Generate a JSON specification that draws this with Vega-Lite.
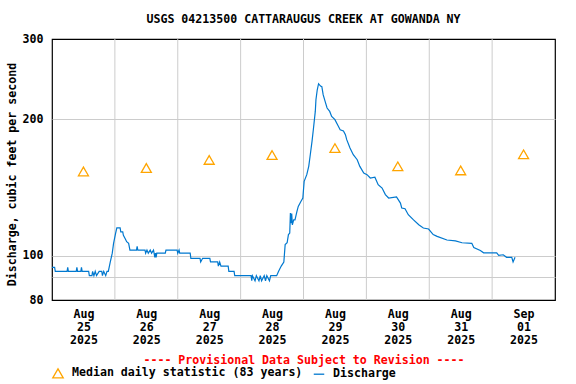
{
  "$schema": "https://vega.github.io/schema/vega-lite/v6.json",
  "width": 503,
  "height": 261,
  "autosize": "none",
  "padding": {"left": 52, "top": 39, "right": 21, "bottom": 84},
  "background": "white",
  "config": {
    "view": {"stroke": "black", "strokeWidth": 1.2},
    "font": "DejaVu Sans Mono"
  },
  "title": {
    "text": "USGS 04213500 CATTARAUGUS CREEK AT GOWANDA NY",
    "font": "DejaVu Sans Mono",
    "fontSize": 11.6,
    "fontWeight": "bold",
    "color": "black",
    "offset": 7,
    "anchor": "middle"
  },
  "datasets": {
    "days": [
      {"d": "2025-08-26T00:00"}, {"d": "2025-08-27T00:00"}, {"d": "2025-08-28T00:00"},
      {"d": "2025-08-29T00:00"}, {"d": "2025-08-30T00:00"}, {"d": "2025-08-31T00:00"},
      {"d": "2025-09-01T00:00"}
    ],
    "median": [
      {"t": "2025-08-25T12:00", "q": 153.4},
      {"t": "2025-08-26T12:00", "q": 156.1},
      {"t": "2025-08-27T12:00", "q": 162.6},
      {"t": "2025-08-28T12:00", "q": 166.7},
      {"t": "2025-08-29T12:00", "q": 172.7},
      {"t": "2025-08-30T12:00", "q": 157.4},
      {"t": "2025-08-31T12:00", "q": 154.2},
      {"t": "2025-09-01T12:00", "q": 167.3}
    ],
    "flow": [
      {"t": "2025-08-25T00:00", "q": 94.4},
      {"t": "2025-08-25T01:00", "q": 94.4},
      {"t": "2025-08-25T01:15", "q": 92.5},
      {"t": "2025-08-25T05:45", "q": 92.5},
      {"t": "2025-08-25T06:00", "q": 94.4},
      {"t": "2025-08-25T06:15", "q": 92.5},
      {"t": "2025-08-25T09:15", "q": 92.5},
      {"t": "2025-08-25T09:30", "q": 94.4},
      {"t": "2025-08-25T09:45", "q": 92.5},
      {"t": "2025-08-25T11:00", "q": 92.5},
      {"t": "2025-08-25T11:15", "q": 94.4},
      {"t": "2025-08-25T11:30", "q": 92.5},
      {"t": "2025-08-25T14:00", "q": 92.5},
      {"t": "2025-08-25T14:15", "q": 90.5},
      {"t": "2025-08-25T15:15", "q": 90.5},
      {"t": "2025-08-25T15:30", "q": 92.5},
      {"t": "2025-08-25T16:00", "q": 90.5},
      {"t": "2025-08-25T16:30", "q": 92.5},
      {"t": "2025-08-25T17:00", "q": 90.5},
      {"t": "2025-08-25T18:00", "q": 92.5},
      {"t": "2025-08-25T19:00", "q": 92.5},
      {"t": "2025-08-25T19:15", "q": 90.5},
      {"t": "2025-08-25T19:45", "q": 92.5},
      {"t": "2025-08-25T20:30", "q": 90.5},
      {"t": "2025-08-25T21:00", "q": 92.5},
      {"t": "2025-08-25T21:30", "q": 92.5},
      {"t": "2025-08-25T22:15", "q": 97},
      {"t": "2025-08-25T23:00", "q": 101.4},
      {"t": "2025-08-25T23:30", "q": 106.6},
      {"t": "2025-08-26T00:15", "q": 112},
      {"t": "2025-08-26T00:45", "q": 115.3},
      {"t": "2025-08-26T02:00", "q": 115.3},
      {"t": "2025-08-26T02:15", "q": 113},
      {"t": "2025-08-26T03:00", "q": 113},
      {"t": "2025-08-26T03:15", "q": 111},
      {"t": "2025-08-26T04:00", "q": 109},
      {"t": "2025-08-26T04:30", "q": 107.5},
      {"t": "2025-08-26T05:15", "q": 106.6},
      {"t": "2025-08-26T05:45", "q": 103},
      {"t": "2025-08-26T08:15", "q": 103},
      {"t": "2025-08-26T08:30", "q": 105},
      {"t": "2025-08-26T08:45", "q": 103},
      {"t": "2025-08-26T11:30", "q": 103},
      {"t": "2025-08-26T11:45", "q": 101.4},
      {"t": "2025-08-26T12:15", "q": 103},
      {"t": "2025-08-26T12:45", "q": 101.4},
      {"t": "2025-08-26T13:30", "q": 103},
      {"t": "2025-08-26T14:00", "q": 101.4},
      {"t": "2025-08-26T14:45", "q": 103},
      {"t": "2025-08-26T15:15", "q": 99.3},
      {"t": "2025-08-26T15:30", "q": 101.4},
      {"t": "2025-08-26T15:45", "q": 99.3},
      {"t": "2025-08-26T16:00", "q": 101.4},
      {"t": "2025-08-26T19:15", "q": 101.4},
      {"t": "2025-08-26T19:30", "q": 103},
      {"t": "2025-08-26T23:45", "q": 103},
      {"t": "2025-08-27T00:00", "q": 101.4},
      {"t": "2025-08-27T00:30", "q": 103},
      {"t": "2025-08-27T00:45", "q": 101.4},
      {"t": "2025-08-27T04:45", "q": 101.4},
      {"t": "2025-08-27T05:00", "q": 98.8},
      {"t": "2025-08-27T08:30", "q": 98.8},
      {"t": "2025-08-27T08:45", "q": 97},
      {"t": "2025-08-27T09:30", "q": 98.8},
      {"t": "2025-08-27T12:15", "q": 98.8},
      {"t": "2025-08-27T12:30", "q": 97},
      {"t": "2025-08-27T15:15", "q": 97},
      {"t": "2025-08-27T15:30", "q": 95},
      {"t": "2025-08-27T16:00", "q": 97},
      {"t": "2025-08-27T16:30", "q": 95},
      {"t": "2025-08-27T19:15", "q": 95},
      {"t": "2025-08-27T19:30", "q": 92.5},
      {"t": "2025-08-27T21:30", "q": 92.5},
      {"t": "2025-08-27T21:45", "q": 90.5},
      {"t": "2025-08-28T04:00", "q": 90.5},
      {"t": "2025-08-28T04:15", "q": 88.2},
      {"t": "2025-08-28T04:30", "q": 90.5},
      {"t": "2025-08-28T05:30", "q": 88.2},
      {"t": "2025-08-28T06:00", "q": 90.5},
      {"t": "2025-08-28T07:00", "q": 88.2},
      {"t": "2025-08-28T07:30", "q": 90.5},
      {"t": "2025-08-28T08:00", "q": 88.2},
      {"t": "2025-08-28T09:00", "q": 90.5},
      {"t": "2025-08-28T09:30", "q": 88.2},
      {"t": "2025-08-28T10:00", "q": 90.5},
      {"t": "2025-08-28T11:00", "q": 88.2},
      {"t": "2025-08-28T11:30", "q": 90.5},
      {"t": "2025-08-28T13:45", "q": 90.5},
      {"t": "2025-08-28T14:30", "q": 92.5},
      {"t": "2025-08-28T15:30", "q": 95},
      {"t": "2025-08-28T16:30", "q": 97},
      {"t": "2025-08-28T17:00", "q": 105.9},
      {"t": "2025-08-28T17:45", "q": 106.9},
      {"t": "2025-08-28T18:15", "q": 111.4},
      {"t": "2025-08-28T18:45", "q": 112.3},
      {"t": "2025-08-28T19:00", "q": 124.3},
      {"t": "2025-08-28T19:15", "q": 118},
      {"t": "2025-08-28T19:30", "q": 124},
      {"t": "2025-08-28T19:45", "q": 117},
      {"t": "2025-08-28T20:15", "q": 120},
      {"t": "2025-08-28T20:45", "q": 120},
      {"t": "2025-08-28T21:30", "q": 125.3},
      {"t": "2025-08-28T22:00", "q": 128.5},
      {"t": "2025-08-28T23:00", "q": 131.8},
      {"t": "2025-08-28T23:45", "q": 134.1},
      {"t": "2025-08-29T00:15", "q": 145.9},
      {"t": "2025-08-29T01:15", "q": 150.9},
      {"t": "2025-08-29T02:00", "q": 157.4},
      {"t": "2025-08-29T02:30", "q": 165.5},
      {"t": "2025-08-29T03:15", "q": 178.6},
      {"t": "2025-08-29T03:45", "q": 189.5},
      {"t": "2025-08-29T04:30", "q": 207.9},
      {"t": "2025-08-29T04:45", "q": 220.6},
      {"t": "2025-08-29T05:15", "q": 232},
      {"t": "2025-08-29T05:45", "q": 239.2},
      {"t": "2025-08-29T06:30", "q": 236.4},
      {"t": "2025-08-29T07:00", "q": 235.6},
      {"t": "2025-08-29T07:30", "q": 226.3},
      {"t": "2025-08-29T08:15", "q": 218.8},
      {"t": "2025-08-29T09:00", "q": 211.5},
      {"t": "2025-08-29T10:00", "q": 207.9},
      {"t": "2025-08-29T10:45", "q": 202.7},
      {"t": "2025-08-29T12:00", "q": 199.4},
      {"t": "2025-08-29T13:00", "q": 194.4},
      {"t": "2025-08-29T14:00", "q": 189.5},
      {"t": "2025-08-29T15:15", "q": 188.4},
      {"t": "2025-08-29T16:00", "q": 184.8},
      {"t": "2025-08-29T16:30", "q": 180.2},
      {"t": "2025-08-29T17:45", "q": 172.7},
      {"t": "2025-08-29T19:00", "q": 167},
      {"t": "2025-08-29T20:30", "q": 162.8},
      {"t": "2025-08-29T21:30", "q": 157.4},
      {"t": "2025-08-29T23:00", "q": 152.2},
      {"t": "2025-08-30T00:15", "q": 150.9},
      {"t": "2025-08-30T01:30", "q": 148.4},
      {"t": "2025-08-30T03:15", "q": 149},
      {"t": "2025-08-30T04:30", "q": 143.5},
      {"t": "2025-08-30T06:00", "q": 141},
      {"t": "2025-08-30T07:15", "q": 136.4},
      {"t": "2025-08-30T08:30", "q": 134.1},
      {"t": "2025-08-30T11:30", "q": 134.8},
      {"t": "2025-08-30T13:00", "q": 130.7},
      {"t": "2025-08-30T13:30", "q": 127.5},
      {"t": "2025-08-30T14:45", "q": 127},
      {"t": "2025-08-30T16:00", "q": 123.2},
      {"t": "2025-08-30T18:00", "q": 120},
      {"t": "2025-08-30T20:00", "q": 117.1},
      {"t": "2025-08-30T21:45", "q": 115.2},
      {"t": "2025-08-30T23:45", "q": 114.6},
      {"t": "2025-08-31T01:30", "q": 111.4},
      {"t": "2025-08-31T03:00", "q": 110.4},
      {"t": "2025-08-31T06:45", "q": 108.4},
      {"t": "2025-08-31T10:00", "q": 107.9},
      {"t": "2025-08-31T12:30", "q": 106.9},
      {"t": "2025-08-31T16:15", "q": 106.6},
      {"t": "2025-08-31T17:00", "q": 104.4},
      {"t": "2025-08-31T19:30", "q": 102.8},
      {"t": "2025-08-31T20:45", "q": 101.6},
      {"t": "2025-09-01T01:45", "q": 101.6},
      {"t": "2025-09-01T02:30", "q": 100.3},
      {"t": "2025-09-01T04:15", "q": 100.6},
      {"t": "2025-09-01T05:30", "q": 99.3},
      {"t": "2025-09-01T07:30", "q": 99.3},
      {"t": "2025-09-01T08:00", "q": 97},
      {"t": "2025-09-01T08:45", "q": 99.3}
    ]
  },
  "layer": [
    {
      "data": {"name": "days"},
      "mark": {"type": "rule", "color": "#cccccc", "strokeWidth": 1},
      "encoding": {
        "x": {"field": "d", "type": "temporal"}
      }
    },
    {
      "data": {"name": "flow"},
      "mark": {"type": "line", "strokeWidth": 1.2, "interpolate": "linear"},
      "encoding": {
        "x": {
          "field": "t",
          "type": "temporal",
          "scale": {"domain": [{"year": 2025, "month": 8, "date": 25}, {"year": 2025, "month": 9, "date": 2}]},
          "axis": {
            "values": [
              {"year": 2025, "month": 8, "date": 25, "hours": 12},
              {"year": 2025, "month": 8, "date": 26, "hours": 12},
              {"year": 2025, "month": 8, "date": 27, "hours": 12},
              {"year": 2025, "month": 8, "date": 28, "hours": 12},
              {"year": 2025, "month": 8, "date": 29, "hours": 12},
              {"year": 2025, "month": 8, "date": 30, "hours": 12},
              {"year": 2025, "month": 8, "date": 31, "hours": 12},
              {"year": 2025, "month": 9, "date": 1, "hours": 12}
            ],
            "labelExpr": "[timeFormat(datum.value, '%b'), timeFormat(datum.value, '%d'), timeFormat(datum.value, '%Y')]",
            "grid": false,
            "ticks": false,
            "domain": false,
            "labelFont": "DejaVu Sans Mono",
            "labelFontSize": 11.6,
            "labelFontWeight": "bold",
            "labelColor": "black",
            "labelPadding": 8,
            "labelLineHeight": 13.3,
            "labelAngle": 0,
            "labelFlush": false,
            "labelOverlap": false,
            "title": "---- Provisional Data Subject to Revision ----",
            "titleColor": "red",
            "titleFont": "DejaVu Sans Mono",
            "titleFontSize": 11.6,
            "titleFontWeight": "bold",
            "titlePadding": 8
          }
        },
        "y": {
          "field": "q",
          "type": "quantitative",
          "scale": {"type": "log", "domain": [80, 300], "nice": false},
          "axis": {
            "values": [80, 90, 100, 200, 300],
            "labelExpr": "datum.value == 90 ? '' : datum.label",
            "format": "d",
            "grid": true,
            "gridColor": "#cccccc",
            "gridOpacity": {"condition": {"test": "datum.value == 80 || datum.value == 300", "value": 0}, "value": 1},
            "ticks": false,
            "domain": false,
            "labelFont": "DejaVu Sans Mono",
            "labelFontSize": 11.6,
            "labelFontWeight": "bold",
            "labelColor": "black",
            "labelPadding": 9,
            "labelFlush": false,
            "title": "Discharge, cubic feet per second",
            "titleFont": "DejaVu Sans Mono",
            "titleFontSize": 11.6,
            "titleFontWeight": "bold",
            "titleColor": "black",
            "titlePadding": 5,
            "titleY": 135
          }
        },
        "color": {
          "datum": "Discharge",
          "scale": {"domain": ["Median daily statistic (83 years)", "Discharge"], "range": ["#FFA500", "#0078CF"]},
          "legend": {
            "orient": "none",
            "legendX": 0,
            "legendY": 328,
            "direction": "horizontal",
            "title": null,
            "padding": 0,
            "labelFont": "DejaVu Sans Mono",
            "labelFontSize": 11.6,
            "labelFontWeight": "bold",
            "labelColor": "black",
            "labelLimit": 0,
            "symbolSize": 110,
            "symbolStrokeWidth": 1.3,
            "labelOffset": 8,
            "columnPadding": 8
          }
        }
      }
    },
    {
      "data": {"name": "median"},
      "mark": {"type": "point", "filled": false, "size": 100, "strokeWidth": 1.3, "opacity": 1},
      "encoding": {
        "x": {"field": "t", "type": "temporal"},
        "y": {"field": "q", "type": "quantitative"},
        "color": {"datum": "Median daily statistic (83 years)"},
        "shape": {
          "datum": "Median daily statistic (83 years)",
          "scale": {"domain": ["Median daily statistic (83 years)", "Discharge"], "range": ["triangle-up", "stroke"]},
          "legend": {
            "orient": "none",
            "legendX": 0,
            "legendY": 328,
            "direction": "horizontal",
            "title": null,
            "padding": 0,
            "labelFont": "DejaVu Sans Mono",
            "labelFontSize": 11.6,
            "labelFontWeight": "bold",
            "labelColor": "black",
            "labelLimit": 0,
            "symbolSize": 110,
            "symbolStrokeWidth": 1.3,
            "labelOffset": 8,
            "columnPadding": 8
          }
        }
      }
    }
  ]
}
